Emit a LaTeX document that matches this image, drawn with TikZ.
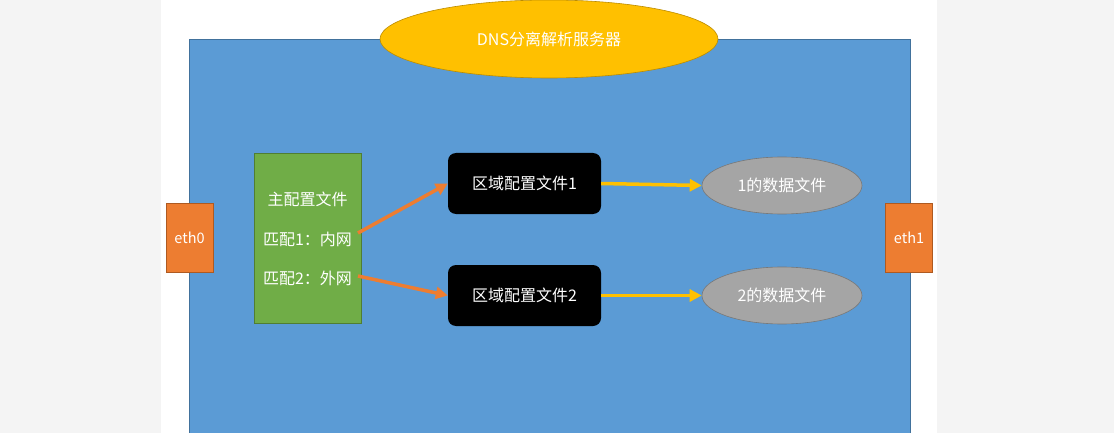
\documentclass[tikz,border=0pt]{standalone}
\usepackage{fontspec}
\setmainfont{Liberation Sans}
\newfontfamily\cjk{Noto Sans CJK SC}
\usetikzlibrary{shapes.geometric,arrows.meta}
\definecolor{bgray}{HTML}{F4F4F4}
\definecolor{pblue}{HTML}{5B9BD5}
\definecolor{pbluedk}{HTML}{41719C}
\definecolor{pyellow}{HTML}{FFC000}
\definecolor{pyellowdk}{HTML}{BC8C00}
\definecolor{porange}{HTML}{ED7D31}
\definecolor{porangedk}{HTML}{AE5A21}
\definecolor{pgreen}{HTML}{70AD47}
\definecolor{pgreendk}{HTML}{507E32}
\definecolor{pgray}{HTML}{A5A5A5}
\definecolor{pgraydk}{HTML}{787878}
\tikzset{
  ethbox/.style={draw=porangedk, fill=porange, line width=0.8pt, minimum width=47pt, minimum height=69pt, inner sep=0pt, text=white, font=\cjk\fontsize{14.5}{17}\selectfont},
  zonebox/.style={fill=black, rounded corners=8pt, minimum width=153pt, minimum height=61pt, inner sep=0pt, text=white, font=\cjk\fontsize{16}{18}\selectfont},
  datafile/.style={ellipse, draw=pgraydk, fill=pgray, line width=0.6pt, minimum width=160pt, minimum height=57pt, inner sep=0pt, text=white, font=\cjk\fontsize{16}{18}\selectfont},
  orangearrow/.style={draw=porange, line width=3.5pt, -{Triangle[length=12pt,width=12pt]}},
  yellowarrow/.style={draw=pyellow, line width=3.5pt, -{Triangle[length=12pt,width=12pt]}},
  txt/.style={text=white, font=\cjk\fontsize{16}{18}\selectfont, inner sep=0pt}
}
\begin{document}
\begin{tikzpicture}[x=1pt,y=-1pt]
\useasboundingbox (0,0) rectangle (1114,433);
\clip (0,0) rectangle (1114,433);
\fill[bgray] (0,0) rectangle (1114,433);
\fill[white] (161,0) rectangle (937,433);
% blue server area
\draw[fill=pblue, draw=pbluedk, line width=0.8pt] (189,39) rectangle (910,445);
% title ellipse
\node[ellipse, draw=pyellowdk, fill=pyellow, line width=0.6pt, minimum width=338pt, minimum height=78pt, inner sep=0pt, text=white, font=\cjk\fontsize{16}{18}\selectfont] (title) at (549,39) {DNS分离解析服务器};
% eth boxes
\node[ethbox] (eth0) at (189.5,238) {eth0};
\node[ethbox] (eth1) at (909,238) {eth1};
% main config
\node[draw=pgreendk, fill=pgreen, line width=0.8pt, minimum width=107pt, minimum height=170pt, inner sep=0pt] (main) at (307.5,238) {};
\node[txt] (m0) at (307.5,199) {主配置文件};
\node[txt] (m1) at (307.5,239) {匹配1：内网};
\node[txt] (m2) at (307.5,278) {匹配2：外网};
\coordinate (m1e) at (358,233);
\coordinate (m2e) at (358,276);
% zone boxes
\node[zonebox] (z1) at (524.5,183.5) {区域配置文件1};
\node[zonebox] (z2) at (524.5,295.5) {区域配置文件2};
% data files
\node[datafile] (d1) at (782,185.5) {1的数据文件};
\node[datafile] (d2) at (782,295.5) {2的数据文件};
% arrows
\draw[orangearrow] (m1e) -- (z1.west);
\draw[orangearrow] (m2e) -- (z2.west);
\draw[yellowarrow] (z1.east) -- (d1.west);
\draw[yellowarrow] (z2.east) -- (d2.west);
\end{tikzpicture}
\end{document}
